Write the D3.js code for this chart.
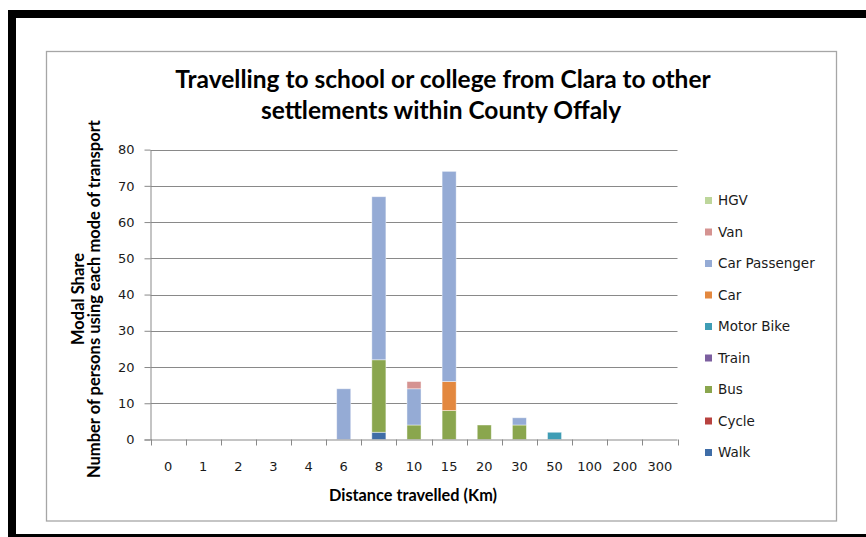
<!DOCTYPE html>
<html>
<head>
<meta charset="utf-8">
<script src="https://cdn.jsdelivr.net/npm/d3@7/dist/d3.min.js"></script>
<style>
  html, body { margin: 0; padding: 0; background: #fff; }
  svg { display: block; }
</style>
</head>
<body>
<svg id="chart" width="866" height="537"></svg>
<script>
// Distance bands (km) along the x axis
const categories = ["0", "1", "2", "3", "4", "6", "8", "10", "15", "20", "30", "50", "100", "200", "300"];

// Persons per mode of transport, one value per distance band
const walk         = [0, 0, 0, 0, 0, 0,  2,  0,  0, 0, 0, 0, 0, 0, 0];
const cycle        = [0, 0, 0, 0, 0, 0,  0,  0,  0, 0, 0, 0, 0, 0, 0];
const bus          = [0, 0, 0, 0, 0, 0, 20,  4,  8, 4, 4, 0, 0, 0, 0];
const train        = [0, 0, 0, 0, 0, 0,  0,  0,  0, 0, 0, 0, 0, 0, 0];
const motorBike    = [0, 0, 0, 0, 0, 0,  0,  0,  0, 0, 0, 2, 0, 0, 0];
const car          = [0, 0, 0, 0, 0, 0,  0,  0,  8, 0, 0, 0, 0, 0, 0];
const carPassenger = [0, 0, 0, 0, 0, 14, 45, 10, 58, 0, 2, 0, 0, 0, 0];
const van          = [0, 0, 0, 0, 0, 0,  0,  2,  0, 0, 0, 0, 0, 0, 0];
const hgv          = [0, 0, 0, 0, 0, 0,  0,  0,  0, 0, 0, 0, 0, 0, 0];

// Stack order, bottom to top
const modes = ["Walk", "Cycle", "Bus", "Train", "Motor Bike", "Car", "Car Passenger", "Van", "HGV"];
const modeValues = [walk, cycle, bus, train, motorBike, car, carPassenger, van, hgv];
const modeColors = ["#3f6da7", "#b8423f", "#8aa64e", "#7c5f9f", "#3f9db5", "#e3883f", "#95abd5", "#d59391", "#bdd69b"];

const yTicks = [0, 10, 20, 30, 40, 50, 60, 70, 80];

const rows = categories.map((c, i) => {
  const r = { category: c };
  modes.forEach((m, k) => { r[m] = modeValues[k][i]; });
  return r;
});

const svg = d3.select("#chart");

// Page frame
svg.append("rect").attr("x", 8).attr("y", 10).attr("width", 870).attr("height", 8).attr("fill", "#000");
svg.append("rect").attr("x", 8).attr("y", 10).attr("width", 8).attr("height", 540).attr("fill", "#000");
svg.append("rect").attr("x", 8).attr("y", 534).attr("width", 870).attr("height", 8).attr("fill", "#000");

// Chart area border
svg.append("rect")
  .attr("x", 46.5).attr("y", 51.5).attr("width", 790).attr("height", 469.5)
  .attr("fill", "#fff").attr("stroke", "#a6a6a6").attr("stroke-width", 1.3);

const plot = { left: 150.5, right: 677.5, top: 149.6, bottom: 439.5 };

const x = d3.scaleBand()
  .domain(categories)
  .range([plot.left, plot.right])
  .paddingInner(0.6)
  .paddingOuter(0.3);

const y = d3.scaleLinear()
  .domain([0, 80])
  .range([plot.bottom, plot.top]);

const gridColor = "#898989";
const textColor = "#1a1a1a";

// Horizontal gridlines
svg.append("g")
  .selectAll("line")
  .data(yTicks.filter(t => t > 0))
  .join("line")
  .attr("x1", plot.left).attr("x2", plot.right)
  .attr("y1", d => Math.round(y(d)) + 0.5).attr("y2", d => Math.round(y(d)) + 0.5)
  .attr("stroke", gridColor).attr("stroke-width", 1);

// Stacked bars
const stacked = d3.stack().keys(modes)(rows);
svg.append("g")
  .selectAll("g")
  .data(stacked)
  .join("g")
  .attr("fill", (d, i) => modeColors[i])
  .selectAll("rect")
  .data(d => d.filter(s => s[1] - s[0] > 0))
  .join("rect")
  .attr("x", d => x(d.data.category))
  .attr("width", x.bandwidth())
  .attr("y", d => y(d[1]))
  .attr("height", d => y(d[0]) - y(d[1]))
  .attr("stroke", "#ffffff")
  .attr("stroke-opacity", 0.55)
  .attr("stroke-width", 0.8);

// Y axis
const yAxis = svg.append("g")
  .attr("transform", `translate(${plot.left},0)`)
  .call(d3.axisLeft(y).tickValues(yTicks).tickSize(6).tickPadding(10).tickSizeOuter(0));
yAxis.select(".domain").attr("stroke", gridColor);
yAxis.selectAll(".tick line").attr("stroke", gridColor);
yAxis.selectAll(".tick text")
  .attr("fill", textColor)
  .style("font-family", "DejaVu Sans")
  .style("font-size", "13px");

// X axis: tick marks fall on the band boundaries
const boundaries = categories.map(c => x(c) - x.step() * x.paddingInner() / 2)
  .concat([plot.right]);
const xAxisG = svg.append("g");
xAxisG.append("line")
  .attr("x1", plot.left - 6).attr("x2", plot.right)
  .attr("y1", plot.bottom + 0.5).attr("y2", plot.bottom + 0.5)
  .attr("stroke", gridColor);
xAxisG.selectAll("line.tick")
  .data(boundaries)
  .join("line")
  .attr("class", "tick")
  .attr("x1", d => Math.round(d) + 0.5).attr("x2", d => Math.round(d) + 0.5)
  .attr("y1", plot.bottom).attr("y2", plot.bottom + 6)
  .attr("stroke", gridColor);
xAxisG.selectAll("text")
  .data(categories)
  .join("text")
  .attr("x", d => x(d) + x.bandwidth() / 2)
  .attr("y", 470.5)
  .attr("text-anchor", "middle")
  .attr("fill", textColor)
  .style("font-family", "DejaVu Sans")
  .style("font-size", "13px")
  .text(d => d);

// Title
const title = svg.append("g")
  .attr("text-anchor", "middle")
  .attr("fill", "#000")
  .style("font-family", "Lato")
  .style("font-weight", "bold")
  .style("font-size", "24.5px");
title.append("text").attr("x", 443).attr("y", 88).text("Travelling to school or college from Clara to other");
title.append("text").attr("x", 441).attr("y", 119).text("settlements within County Offaly");

// Axis titles
svg.append("text")
  .attr("x", 413).attr("y", 500.5)
  .attr("text-anchor", "middle")
  .attr("fill", "#000")
  .style("font-family", "Lato").style("font-weight", "bold").style("font-size", "16.3px")
  .text("Distance travelled (Km)");

const yTitle = svg.append("g")
  .attr("transform", "translate(0,299) rotate(-90)")
  .attr("text-anchor", "middle")
  .attr("fill", "#000")
  .style("font-family", "Lato").style("font-weight", "bold").style("font-size", "16.5px");
yTitle.append("text").attr("x", 0).attr("y", 84).text("Modal Share");
yTitle.append("text").attr("x", 0).attr("y", 100).text("Number of persons using each mode of transport");

// Legend, listed top of stack first
const legendModes = modes.slice().reverse();
const legend = svg.append("g")
  .selectAll("g")
  .data(legendModes)
  .join("g")
  .attr("transform", (d, i) => `translate(705,${200.5 + i * 31.5})`);
legend.append("rect")
  .attr("x", 0).attr("y", -3.5).attr("width", 7).attr("height", 7)
  .attr("fill", d => modeColors[modes.indexOf(d)]);
legend.append("text")
  .attr("x", 13).attr("y", 4.8)
  .attr("fill", textColor)
  .style("font-family", "DejaVu Sans")
  .style("font-size", "13.5px")
  .text(d => d);
</script>
</body>
</html>
